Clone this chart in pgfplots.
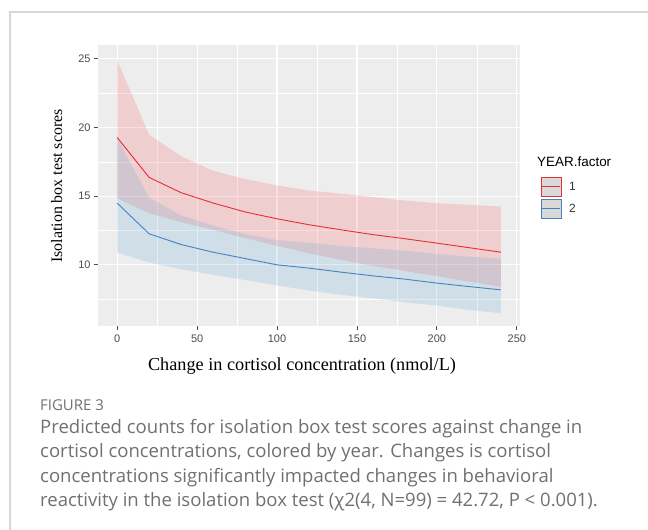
\documentclass[border=0pt]{standalone}
\usepackage{pgfplots}
\pgfplotsset{compat=1.18}
\usepackage{pgfplotstable}
\usepgfplotslibrary{fillbetween}
\usepackage{fontspec}
\setmainfont{Liberation Serif}
\setsansfont{Liberation Sans}
\newfontfamily\capfont{Open Sans}

\definecolor{panel}{RGB}{237,237,237}
\definecolor{redline}{RGB}{232,45,52}
\definecolor{blueline}{RGB}{70,130,190}
\definecolor{redfill}{RGB}{249,82,92}
\definecolor{bluefill}{RGB}{92,166,212}
\definecolor{capgray}{RGB}{112,112,112}
\definecolor{framegray}{RGB}{215,215,215}

% predicted score with lower / upper band, year 1 (red) and year 2 (blue)
\pgfplotstableread{
x   red    redlo  redhi  blue   bluelo bluehi
0   19.27  14.85  24.88  14.49  10.90  19.20
20  16.36  13.76  19.47  12.26  10.17  14.90
40  15.25  13.10  17.90  11.48   9.68  13.60
60  14.50  12.55  16.85  10.92   9.27  12.85
80  13.85  11.95  16.24  10.46   8.90  12.25
100 13.35  11.38  15.78  10.00   8.50  11.80
120 12.92  10.84  15.41   9.76   8.13  11.60
140 12.55  10.37  15.17   9.47   7.82  11.38
160 12.20   9.92  14.93   9.20   7.57  11.20
180 11.90   9.55  14.68   8.96   7.28  11.03
200 11.58   9.17  14.49   8.67   7.04  10.80
220 11.25   8.78  14.37   8.42   6.72  10.60
240 10.92   8.40  14.25   8.18   6.48  10.45
}\scores

\begin{document}
\begin{tikzpicture}
  \begin{scope}[x=1bp,y=1bp]
  \path[use as bounding box] (0,0) rectangle (648,530);
  \draw[framegray, line width=1.2bp] (10,0) -- (10,518) -- (648,518);
  \end{scope}

  \begin{axis}[
      at={(98bp,204bp)}, anchor=south west,
      scale only axis,
      width=422bp, height=281bp,
      xmin=-12, xmax=252,
      ymin=5.55, ymax=26,
      axis background/.style={fill=panel},
      axis line style={draw=none},
      xtick={0,50,...,250},
      ytick={10,15,20,25},
      minor xtick={25,75,...,225},
      minor ytick={7.5,12.5,17.5,22.5},
      grid=both,
      major grid style={white, line width=1.1bp},
      minor grid style={white, line width=0.55bp},
      tick align=outside,
      major tick length=4bp,
      minor tick length=0pt,
      xtick pos=bottom, ytick pos=left,
      tick style={black!70, line width=0.8bp},
      /pgf/number format/assume math mode=true,
      ticklabel style={font=\sffamily\fontsize{11}{13}\selectfont, text=black!70},
      xticklabel style={yshift=-1bp},
    ]
    \addplot[name path=rhi, draw=none] table[x=x, y=redhi] {\scores};
    \addplot[name path=rlo, draw=none] table[x=x, y=redlo] {\scores};
    \addplot[fill=redfill, fill opacity=0.2, draw=none] fill between[of=rhi and rlo];

    \addplot[name path=bhi, draw=none] table[x=x, y=bluehi] {\scores};
    \addplot[name path=blo, draw=none] table[x=x, y=bluelo] {\scores};
    \addplot[fill=bluefill, fill opacity=0.2, draw=none] fill between[of=bhi and blo];

    \addplot[redline, line width=0.9bp] table[x=x, y=red] {\scores};
    \addplot[blueline, line width=0.9bp] table[x=x, y=blue] {\scores};
  \end{axis}

  \begin{scope}[x=1bp,y=1bp]
  % axis titles
  \node[anchor=base, font=\fontsize{18.3}{20}\selectfont] at (302,159)
    {Change in cortisol concentration (nmol/L)};
  \node[anchor=base, rotate=90, font=\fontsize{16}{18}\selectfont] at (62,344)
    {Isolation box test scores};

  % legend
  \node[anchor=base west, inner sep=0, font=\sffamily\fontsize{13.5}{15}\selectfont] at (537,363) {YEAR.factor};
  \draw[redline, fill=black!15, line width=0.8bp] (541,334) rectangle (561,353);
  \draw[redline, line width=0.8bp] (542,343.5) -- (560,343.5);
  \draw[blueline, fill=black!15, line width=0.8bp] (541,312) rectangle (561,331);
  \draw[blueline, line width=0.8bp] (542,321.5) -- (560,321.5);
  \node[anchor=west, inner sep=0, font=\sffamily\fontsize{12}{14}\selectfont, text=black!80] at (569,343.5) {1};
  \node[anchor=west, inner sep=0, font=\sffamily\fontsize{12}{14}\selectfont, text=black!80] at (569,321.5) {2};

  % caption
  \node[anchor=north west, inner sep=0, text=capgray, font=\capfont\fontsize{15}{17}\selectfont] at (40,131) {FIGURE 3};
  \node[anchor=north west, inner sep=0, align=left, text=capgray,
        font=\capfont\fontsize{18.6}{24.5}\selectfont] at (40,111)
    {Predicted counts for isolation box test scores against change in\\
     cortisol concentrations, colored by year. Changes is cortisol\\
     concentrations significantly impacted changes in behavioral\\
     reactivity in the isolation box test (χ2(4, N=99) = 42.72, P < 0.001).};
  \end{scope}
\end{tikzpicture}
\end{document}
